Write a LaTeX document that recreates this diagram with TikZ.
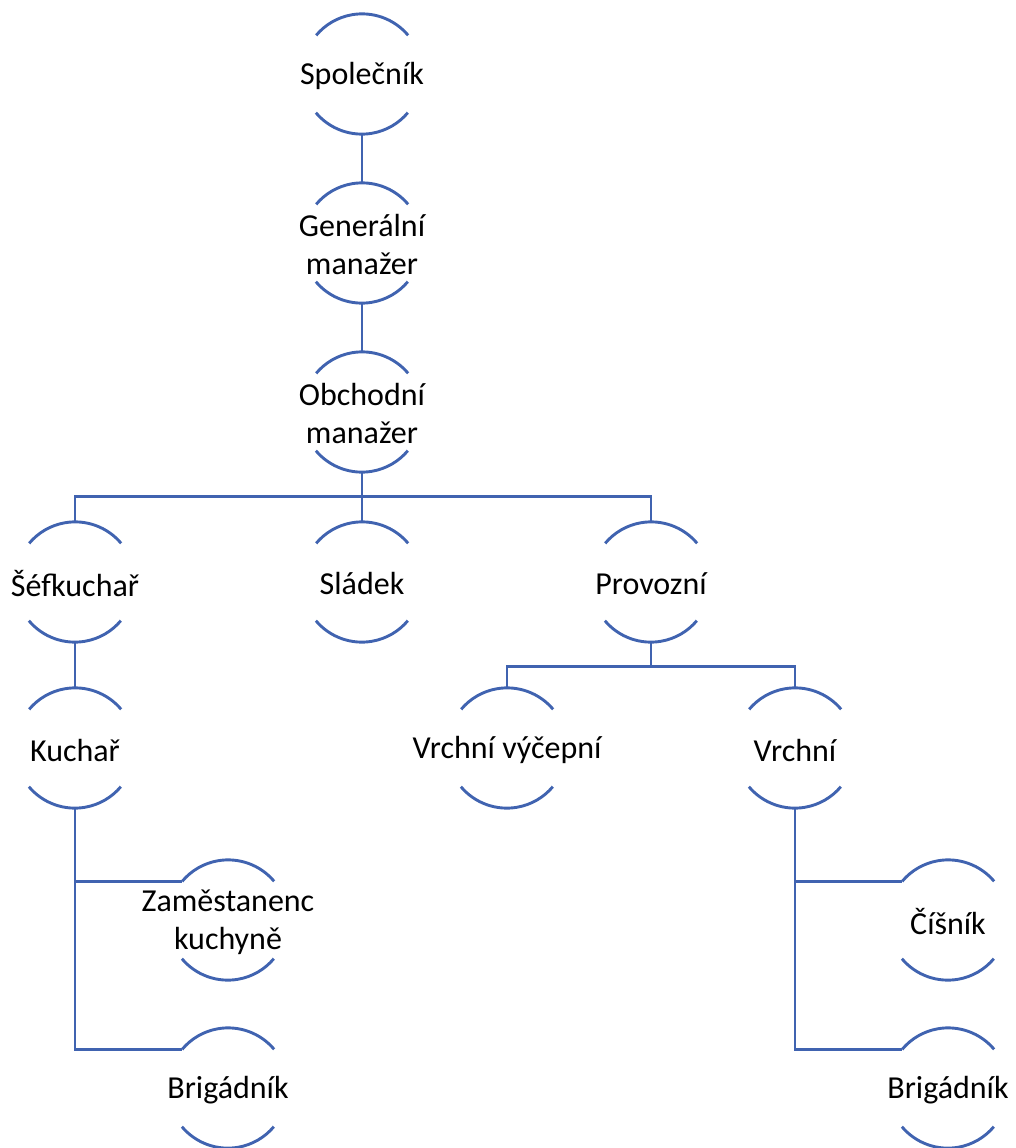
\documentclass[tikz,border=0pt]{standalone}
\usepackage{fontspec}
\setmainfont{Carlito}
\definecolor{lineblue}{RGB}{64,99,176}
\begin{document}
\begin{tikzpicture}[x=1pt,y=-1pt,
  ring/.style={circle, minimum size=120pt, inner sep=0pt},
  lbl/.style={font=\fontsize{32}{38}\selectfont, align=center, text=black, yshift=-2pt},
  conn/.style={draw=lineblue, line width=2.9pt},
  arcs/.style={draw=lineblue, line width=2.9pt}]
\useasboundingbox (0,0) rectangle (1015,1148);
% circles (invisible), labels and arcs
\foreach \n/\x/\y/\t in {
  sp/362/74/{Společník},
  gm/362/243/{Generální\\manažer},
  om/362/412/{Obchodní\\manažer},
  sef/75/582/{Šéfkuchař},
  sl/362/582/{Sládek},
  pr/651/582/{Provozní},
  ku/75/748/{Kuchař},
  vv/507/748/{Vrchní výčepní},
  vr/795/748/{Vrchní},
  zk/228/920/{Zaměstanenc\\kuchyně},
  bra/228/1088/{Brigádník},
  ci/948/920/{Číšník},
  brb/948/1088/{Brigádník}} {
  \node[ring] (\n) at (\x,\y) {};
  \node[lbl] (\n-t) at (\x,\y) {\t};
  \draw[arcs] (\n.40) arc[start angle=40, end angle=140, radius=60pt];
  \draw[arcs] (\n.220) arc[start angle=220, end angle=320, radius=60pt];
}
% connectors
\draw[conn] (sp.south) -- (gm.north);
\draw[conn] (gm.south) -- (om.north);
\draw[conn] (om.south) -- ++(0,24) -| (sef.north);
\draw[conn] (om.south) -- (sl.north);
\draw[conn] (om.south) -- ++(0,24) -| (pr.north);
\draw[conn] (sef.south) -- (ku.north);
\draw[conn] (pr.south) -- ++(0,24) -| (vv.north);
\draw[conn] (pr.south) -- ++(0,24) -| (vr.north);
\draw[conn] (ku.south) |- (zk.140);
\draw[conn] (ku.south) |- (bra.140);
\draw[conn] (vr.south) |- (ci.140);
\draw[conn] (vr.south) |- (brb.140);
\end{tikzpicture}
\end{document}
